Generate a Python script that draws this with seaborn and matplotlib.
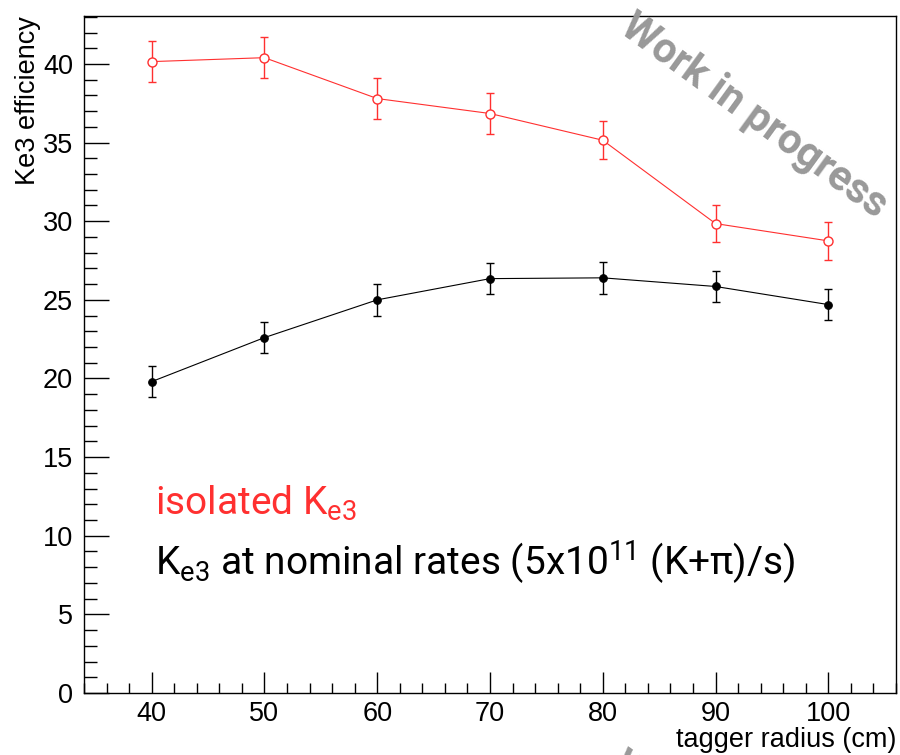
import numpy as np
import pandas as pd
import matplotlib
matplotlib.use("Agg")
import matplotlib.pyplot as plt
import seaborn as sns
from matplotlib.ticker import MultipleLocator

# datos
radio = [40, 50, 60, 70, 80, 90, 100]
eff_isolated = [40.15, 40.4, 37.8, 36.85, 35.15, 29.85, 28.75]
err_isolated = [1.3, 1.3, 1.3, 1.3, 1.2, 1.2, 1.2]
eff_nominal = [19.8, 22.6, 25.0, 26.35, 26.4, 25.85, 24.7]
err_nominal = [1.0, 1.0, 1.0, 1.0, 1.0, 1.0, 1.0]

df = pd.DataFrame({"radio": radio,
                   "isolated": eff_isolated,
                   "nominal": eff_nominal})

sns.set_style("ticks")
plt.rcParams["font.family"] = ["Liberation Sans", "DejaVu Sans"]
plt.rcParams["text.color"] = "black"
plt.rcParams["axes.labelcolor"] = "black"
plt.rcParams["xtick.color"] = "black"
plt.rcParams["ytick.color"] = "black"

fig = plt.figure(figsize=(9, 7.55), dpi=100)
ax = fig.add_axes([84/900, 62/755, 812/900, 677/755])

rojo = "#ff3030"

# serie aislada (circulos abiertos rojos)
ax.errorbar(radio, eff_isolated, yerr=err_isolated, fmt="none",
            ecolor=rojo, elinewidth=1, capsize=3, capthick=1)
sns.lineplot(data=df, x="radio", y="isolated", ax=ax, color=rojo,
             linewidth=0.8, marker="o", markersize=6.5,
             markerfacecolor="white", markeredgecolor=rojo,
             markeredgewidth=1)

# serie a tasas nominales (circulos negros)
ax.errorbar(radio, eff_nominal, yerr=err_nominal, fmt="none",
            ecolor="black", elinewidth=1, capsize=3, capthick=1)
sns.lineplot(data=df, x="radio", y="nominal", ax=ax, color="black",
             linewidth=0.8, marker="o", markersize=5.5,
             markerfacecolor="black", markeredgecolor="black")

ax.set_xlim(34, 106)
ax.set_ylim(0, 43.05)

ax.xaxis.set_major_locator(MultipleLocator(10))
ax.xaxis.set_minor_locator(MultipleLocator(2))
ax.yaxis.set_major_locator(MultipleLocator(5))
ax.yaxis.set_minor_locator(MultipleLocator(1))

ax.tick_params(axis="both", which="both", direction="in",
               top=False, right=False, labelsize=19.5,
               color="black", labelcolor="black")
ax.tick_params(axis="y", which="major", length=18, width=1, pad=8)
ax.tick_params(axis="y", which="minor", length=9, width=1)
ax.tick_params(axis="x", which="major", length=15, width=1, pad=6)
ax.tick_params(axis="x", which="minor", length=7.5, width=1)

for s in ax.spines.values():
    s.set_color("black")
    s.set_linewidth(1)

ax.set_xlabel("tagger radius (cm)", fontsize=19.5, loc="right", labelpad=0)
ax.set_ylabel("Ke3 efficiency", fontsize=19.5, loc="top", labelpad=1)

fuente = ["Roboto", "DejaVu Sans"]
ax.text(155/900, 1 - 515/755, r"isolated K$_{\mathregular{e3}}$",
        transform=fig.transFigure, color=rojo, fontsize=28,
        family=fuente, ha="left", va="baseline")
ax.text(155/900, 1 - 576/755,
        r"K$_{\mathregular{e3}}$ at nominal rates (5x10$^{\mathregular{11}}$ (K+π)/s)",
        transform=fig.transFigure, color="black", fontsize=28,
        family=fuente, ha="left", va="baseline")

# marca de agua
fig.text(754/900, 1 - 116/755, "Work in progress", color="#999999",
         fontsize=30, fontweight="bold", family=fuente,
         rotation=-36, ha="center", va="center", rotation_mode="anchor")
fig.text(628/900, 1 - 744/755, "Work in progress", color="#999999",
         fontsize=30, fontweight="bold", family=fuente,
         rotation=-36, ha="left", va="top", rotation_mode="anchor")

fig.savefig("out.png", dpi=100)
